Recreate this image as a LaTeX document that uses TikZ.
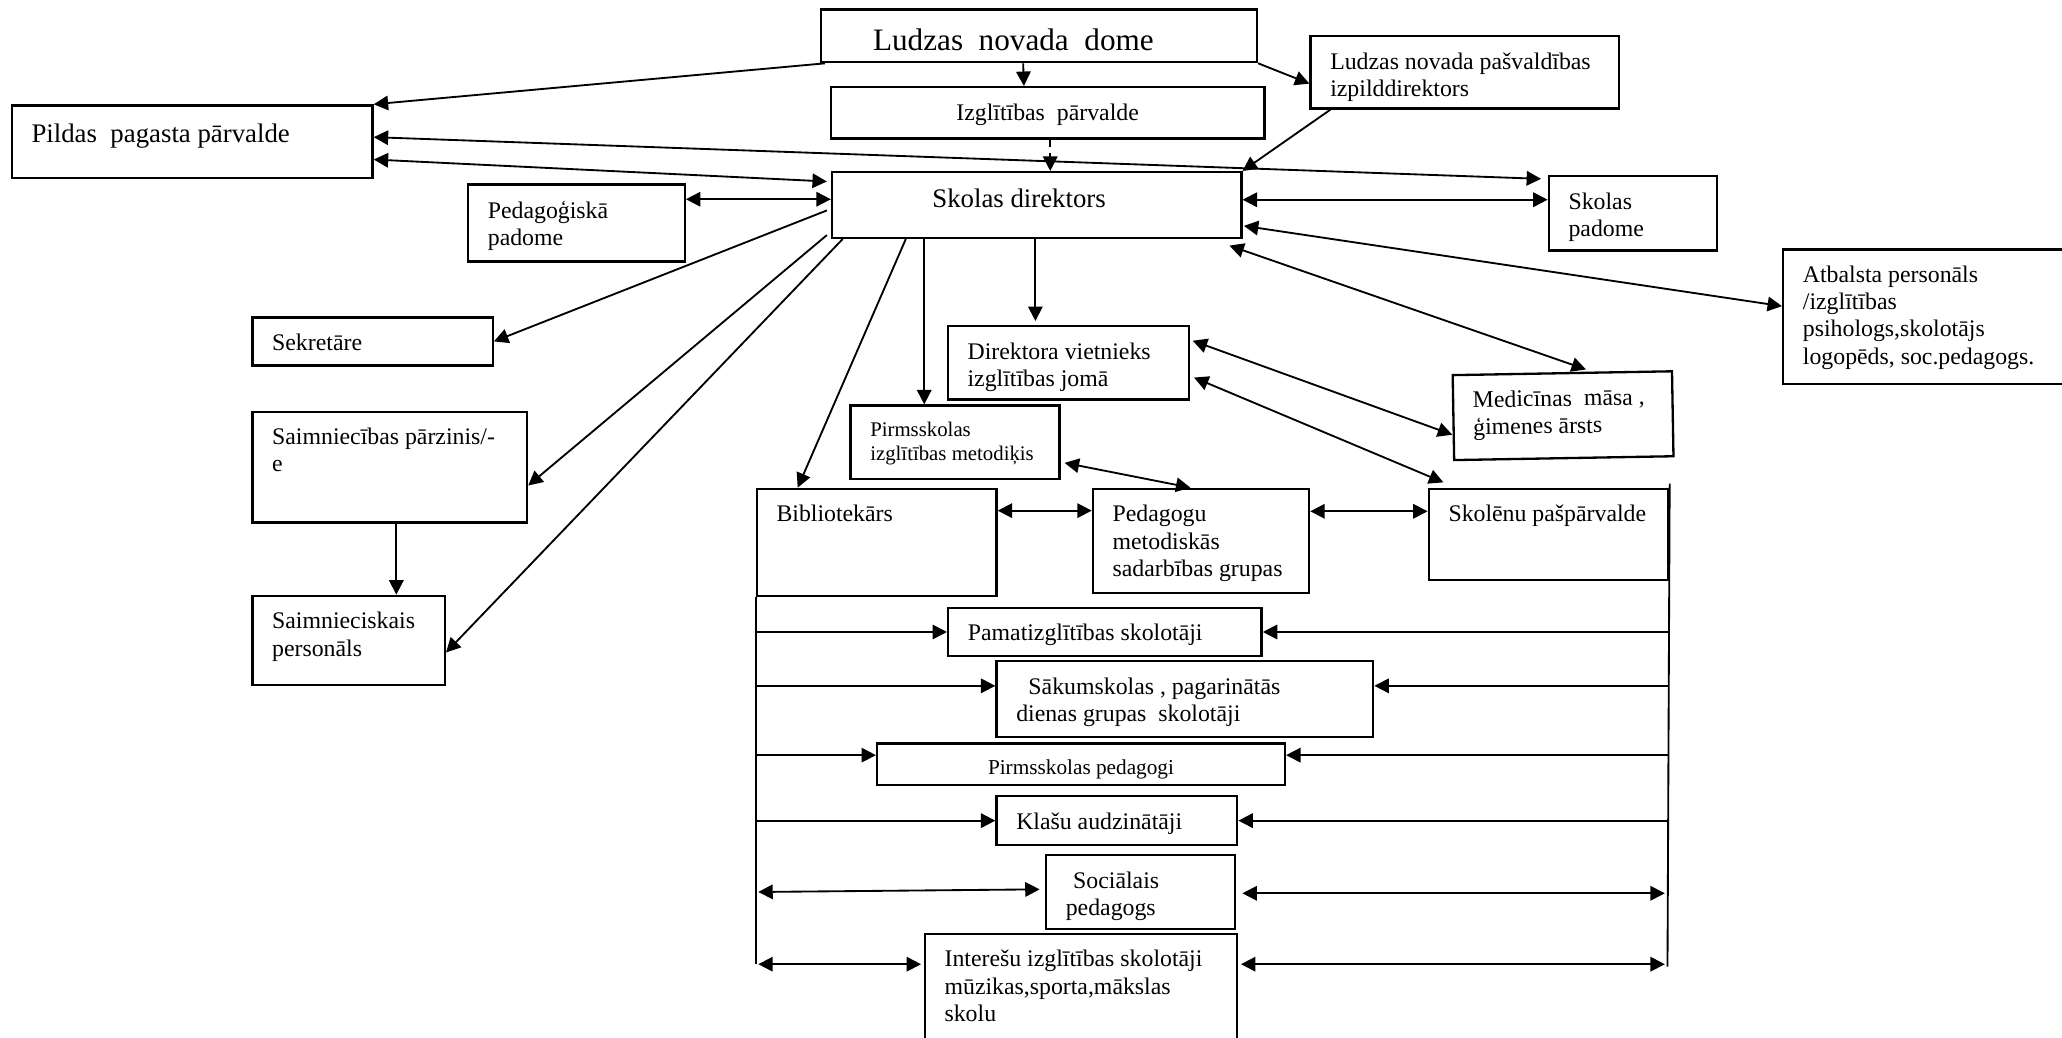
\documentclass[tikz,border=0pt]{standalone}
\usepackage{fontspec}
\setmainfont{Liberation Serif}
\usepackage{tikz}
\usetikzlibrary{arrows.meta}

\newlength{\unitpx}
\setlength{\unitpx}{0.2mm}
% box text: [alignment]{width}{height}{text}, sizes in picture units
\newcommand{\orgcell}[4][\raggedright]{\begin{minipage}[t][#3\unitpx][t]{#2\unitpx}\vspace*{7.5\unitpx}#1#4\end{minipage}}

\begin{document}
\begin{tikzpicture}[x=0.2mm, y=-0.2mm,
    box/.style={draw, line width=1pt, anchor=north west, inner xsep=3mm, inner ysep=1mm,
      font=\fontsize{10.3}{11.8}\selectfont},
    arrow/.style={-{Triangle[length=2.2mm,width=2.2mm]}, line width=0.8pt},
    twoway/.style={{Triangle[length=2.2mm,width=2.2mm]}-{Triangle[length=2.2mm,width=2.2mm]}, line width=0.8pt},
    bus/.style={line width=0.8pt}]
    \useasboundingbox (0,0) rectangle (1568,789);

    % Top level
    \node[box, font=\fontsize{13.5}{16}\selectfont] (dome) at (623.3,6.3) {\orgcell{301.7}{30.1}{\vspace*{2.5\unitpx}\hspace*{24.7\unitpx}Ludzas~ novada~ dome}};
    \node[box] (izgl) at (630.8,65.4) {\orgcell[\centering]{299.9}{29}{Izglītības~ pārvalde}};
    \node[box] (izpild) at (995.7,26.6) {\orgcell{204.5}{45}{Ludzas novada pašvaldības\\izpilddirektors}};
    \node[box, font=\fontsize{11.6}{13.5}\selectfont] (pildas) at (8.1,79.3) {\orgcell{244.3}{45}{\vspace*{1.3\unitpx}Pildas~ pagasta pārvalde}};
    \node[box, font=\fontsize{11.6}{13.5}\selectfont] (dir) at (631.8,130) {\orgcell{281.3}{40}{\hspace*{61.3\unitpx}Skolas direktors}};
    \node[box] (pedpad) at (355.1,139.5) {\orgcell{134.7}{48.4}{Pedagoģiskā\\padome}};
    \node[box] (skpad) at (1176.9,133) {\orgcell{97.8}{46.6}{Skolas\\padome}};
    \node[box] (atbalsts) at (1355.1,188.8) {\orgcell{185.9}{92.2}{Atbalsta personāls\\/izglītības\\psihologs,skolotājs\\logopēds, soc.pedagogs.}};

    % Staff round the director
    \node[box] (sekr) at (191.1,240.5) {\orgcell{152.7}{26.5}{Sekretāre}};
    \node[box] (saimp) at (191.1,312.2) {\orgcell{178.8}{74.3}{Saimniecības pārzinis/-\\e}};
    \node[box] (saimpers) at (191.1,452.2) {\orgcell{116.3}{57.6}{Saimnieciskais\\personāls}};
    \node[box] (dirviet) at (719.9,247.1) {\orgcell{153.3}{45.8}{Direktora vietnieks\\izglītības jomā}};
    \node[box, anchor=center, rotate=1] (med) at (1188.6,316.1) {\orgcell{136.8}{54.6}{Medicīnas~ māsa ,\\ģimenes ārsts}};
    \node[box, font=\fontsize{9}{10.5}\selectfont] (pirmmet) at (645.9,307.5) {\orgcell{128.9}{45.7}{Pirmsskolas\\izglītības metodiķis}};
    \node[box] (bibl) at (574.6,370.8) {\orgcell{152.3}{71.7}{Bibliotekārs}};
    \node[box] (pedgr) at (830.2,370.8) {\orgcell{134.4}{69.1}{Pedagogu\\metodiskās\\sadarbības grupas}};
    \node[box] (skolen) at (1085.6,370.8) {\orgcell{152.3}{59.5}{Skolēnu pašpārvalde}};

    % Teachers
    \node[box] (pamat) at (720.1,461.3) {\orgcell{208.4}{26.8}{Pamatizglītības skolotāji}};
    \node[box] (sakum) at (756.9,501.9) {\orgcell{256.4}{47.5}{\hspace*{9.3\unitpx}Sākumskolas , pagarinātās\\dienas grupas~ skolotāji}};
    \node[box, font=\fontsize{9.2}{11}\selectfont] (pirmped) at (666.1,564.5) {\orgcell[\centering]{280.1}{21.7}{Pirmsskolas pedagogi}};
    \node[box] (klasu) at (756.9,604.5) {\orgcell{153}{27.3}{Klašu audzinātāji}};
    \node[box] (soc) at (794.6,649.4) {\orgcell{113.4}{46}{\hspace*{5.6\unitpx}Sociālais\\pedagogs}};
    \node[box] (interes) at (702.4,709.2) {\orgcell{207.5}{72.8}{Interešu izglītības skolotāji\\mūzikas,sporta,mākslas\\skolu}};

    \coordinate (lbus) at (574.6,733);
    \coordinate (rbus) at (1268,735);

    % Council and administration
    \draw[arrow] ([shift={(4,0)}]dome.south west) -- (pildas.north east);
    \draw[arrow] ([shift={(-12,0)}]dome.south) -- ([shift={(-18,0)}]izgl.north);
    \draw[arrow] (dome.south east) -- ([shift={(0,37)}]izpild.north west);
    \draw[arrow, dashed] ([shift={(2,0)}]izgl.south) -- ([shift={(2,0)}]izgl.south |- dir.north);
    \draw[arrow] ([shift={(16,0)}]izpild.south west) -- (dir.north east);
    \draw[twoway] ([shift={(0,25)}]pildas.north east) -- ([shift={(-5,3)}]skpad.north west);
    \draw[twoway] ([shift={(0,42)}]pildas.north east) -- ([shift={(-3,8)}]dir.north west);
    \draw[twoway] ([shift={(0,12)}]pedpad.north east) -- ([shift={(0,12)}]pedpad.north east -| dir.west);
    \draw[twoway] ([shift={(0,-4)}]dir.east) -- ([shift={(0,-4)}]dir.east -| skpad.west);
    \draw[twoway] ([shift={(1,-10)}]dir.south east) -- ([shift={(0,44)}]atbalsts.north west);
    \draw[twoway] ([shift={(-10,5)}]dir.south east) -- ([shift={(18,-2)}]med.north);

    % Director downwards
    \draw[arrow] ([shift={(-3,30)}]dir.north west) -- (sekr.east);
    \draw[arrow] ([shift={(-3,-3)}]dir.south west) -- ([shift={(0,57)}]saimp.north east);
    \draw[arrow] ([shift={(9,0)}]dir.south west) -- ([shift={(0,44)}]saimpers.north east);
    \draw[arrow] ([shift={(57,0)}]dir.south west) -- ([shift={(32,0)}]bibl.north west);
    \draw[arrow] ([shift={(71,0)}]dir.south west) -- ([shift={(71,0)}]dir.south west |- pirmmet.north);
    \draw[arrow] ([shift={(-1,0)}]dir.south) -- ([shift={(-1,-3)}]dir.south |- dirviet.north);
    \draw[arrow] ([shift={(5,0)}]saimp.south) -- ([shift={(5,0)}]saimp.south |- saimpers.north);
    \draw[twoway] ([shift={(2,12)}]dirviet.north east) -- ([shift={(0,13)}]med.west);
    \draw[twoway] ([shift={(3,40)}]dirviet.north east) -- ([shift={(12,-4)}]skolen.north west);
    \draw[twoway] ([shift={(3,-13)}]pirmmet.south east) -- ([shift={(75,0)}]pedgr.north west);
    \draw[twoway] ([shift={(0,17.5)}]bibl.north east) -- ([shift={(0,17.5)}]bibl.north east -| pedgr.west);
    \draw[twoway] ([shift={(0,18)}]pedgr.north east) -- ([shift={(0,18)}]pedgr.north east -| skolen.west);

    % Side lines to the teachers
    \draw[bus] (bibl.south west) -- (lbus);
    \draw[bus] ([shift={(0,-3)}]skolen.north east) -- (rbus);
    \draw[arrow] (lbus |- pamat.west) -- (pamat.west);
    \draw[arrow] (rbus |- pamat.east) -- (pamat.east);
    \draw[arrow] ([shift={(0,-10)}]lbus |- sakum.west) -- ([shift={(0,-10)}]sakum.west);
    \draw[arrow] ([shift={(0,-10)}]rbus |- sakum.east) -- ([shift={(0,-10)}]sakum.east);
    \draw[arrow] ([shift={(0,-7)}]lbus |- pirmped.west) -- ([shift={(0,-7)}]pirmped.west);
    \draw[arrow] ([shift={(0,-7)}]rbus |- pirmped.east) -- ([shift={(0,-7)}]pirmped.east);
    \draw[arrow] (lbus |- klasu.west) -- (klasu.west);
    \draw[arrow] (rbus |- klasu.east) -- (klasu.east);
    \draw[twoway] ([shift={(2,0)}]lbus |- soc.west) -- ([shift={(-4,-2)}]soc.west);
    \draw[twoway] ([shift={(5,1)}]soc.east) -- ([shift={(-2,1)}]rbus |- soc.east);
    \draw[twoway] ([shift={(2,24)}]lbus |- interes.north west) -- ([shift={(-2,24)}]interes.north west);
    \draw[twoway] ([shift={(2,24)}]interes.north east) -- ([shift={(-2,24)}]rbus |- interes.north east);
\end{tikzpicture}
\end{document}
